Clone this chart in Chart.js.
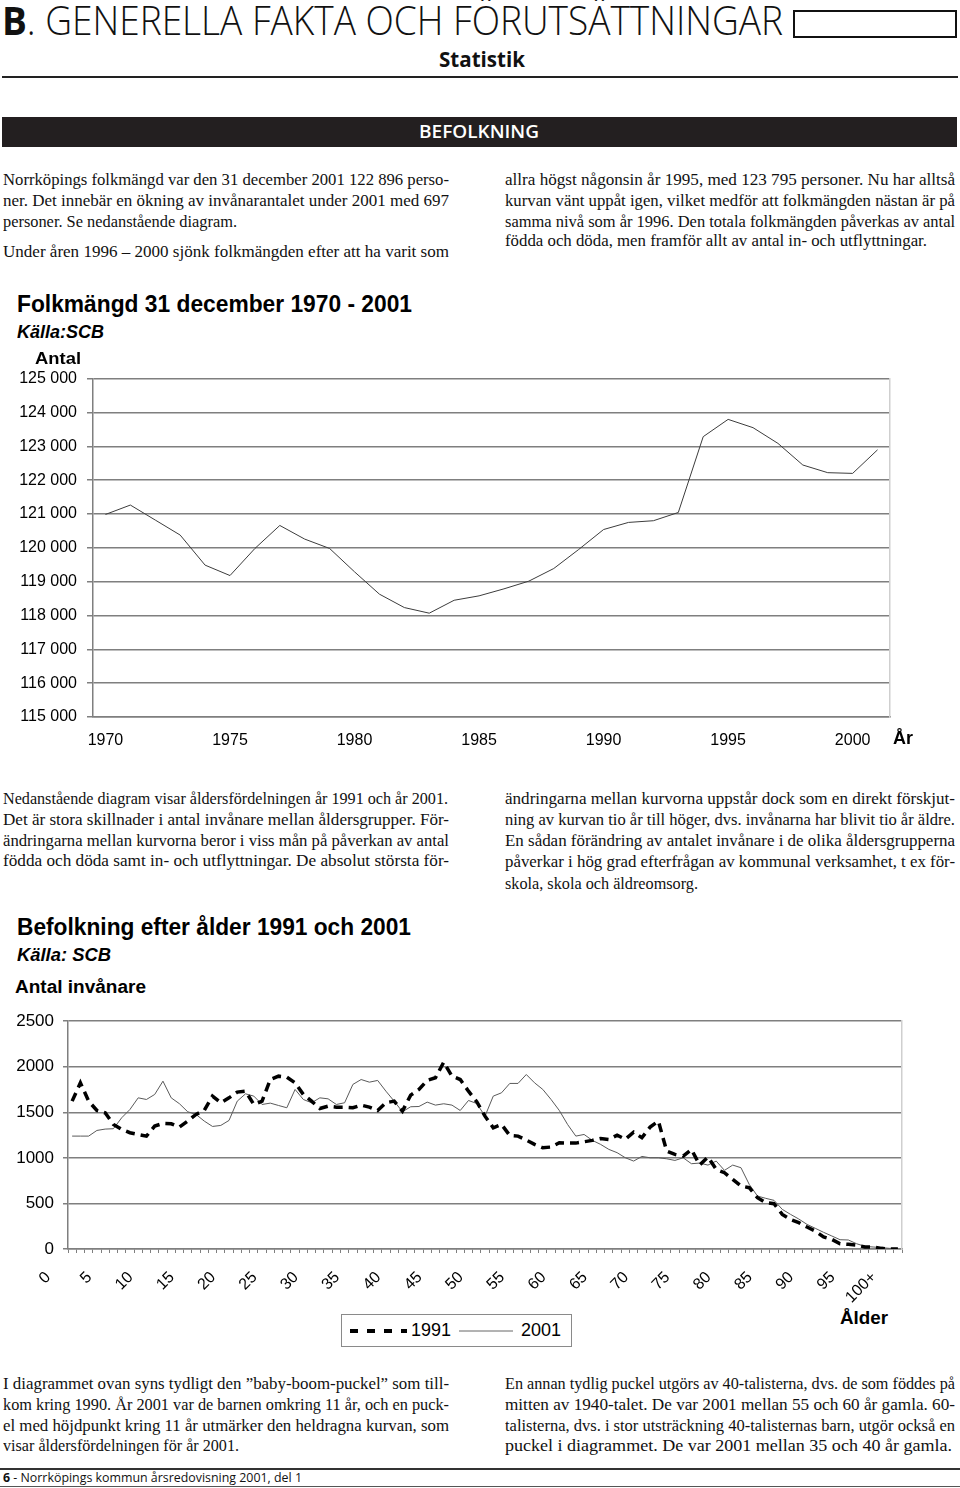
<!DOCTYPE html>
<html lang="sv">
<head>
<meta charset="utf-8">
<title>Befolkning</title>
<script src="https://cdn.jsdelivr.net/npm/chart.js@4.4.0/dist/chart.umd.min.js"></script>
<style>
  html, body { margin: 0; padding: 0; background: #fff; }
  body { position: relative; width: 960px; height: 1488px; overflow: hidden; }
  .t { position: absolute; white-space: nowrap; line-height: 1; transform-origin: 0 50%; color: #111; }
  .serif { font-family: "Liberation Serif", "DejaVu Serif", serif; font-size: 16px; }
  .head { font-family: "Open Sans", "DejaVu Sans", sans-serif; }
  .ar { font-family: "Liberation Sans", Arial, sans-serif; color: #000; }
  canvas { position: absolute; left: 0; }
</style>
</head>
<body>

<div style="position:absolute;left:793px;top:10px;width:160px;height:24px;border:2px solid #111;"></div>
<div style="position:absolute;left:2px;top:76px;width:956px;height:2px;background:#222;"></div>
<div style="position:absolute;left:2px;top:117px;width:955px;height:30px;background:#231f20;"></div>
<div style="position:absolute;left:0;top:1468px;width:960px;height:2px;background:#333;"></div>
<div style="position:absolute;left:0;top:1486px;width:960px;height:1px;background:#555;"></div>

<canvas id="folkChart" width="960" height="401" style="top:359px"></canvas>
<canvas id="alderChart" width="960" height="303" style="top:1002px"></canvas>

<div style="position:absolute;left:341px;top:1314px;width:229px;height:31px;border:1px solid #8a8a8a;">
  <svg width="229" height="31" style="position:absolute;left:0;top:0">
    <line x1="8" y1="16" x2="65" y2="16" stroke="#000" stroke-width="4" stroke-dasharray="8,9"></line>
    <line x1="117" y1="16" x2="171" y2="16" stroke="#666" stroke-width="1"></line>
  </svg>
</div>

<script>
// Folkmängd 31 december 1970 - 2001
const years = ['1970','1971','1972','1973','1974','1975','1976','1977','1978','1979',
               '1980','1981','1982','1983','1984','1985','1986','1987','1988','1989',
               '1990','1991','1992','1993','1994','1995','1996','1997','1998','1999',
               '2000','2001'];
const folkmangd = [120985, 121263, 120820, 120376, 119488, 119180, 119980, 120660, 120257, 119980,
                   119290, 118630, 118234, 118068, 118450, 118580, 118787, 119015, 119388, 119950,
                   120540, 120750, 120800, 121044, 123284, 123795, 123550, 123086, 122446, 122220,
                   122199, 122896];

// Befolkning efter ålder 1991 och 2001
const ages = ['0','1','2','3','4','5','6','7','8','9','10','11','12','13','14','15','16','17','18','19',
              '20','21','22','23','24','25','26','27','28','29','30','31','32','33','34','35','36','37','38','39',
              '40','41','42','43','44','45','46','47','48','49','50','51','52','53','54','55','56','57','58','59',
              '60','61','62','63','64','65','66','67','68','69','70','71','72','73','74','75','76','77','78','79',
              '80','81','82','83','84','85','86','87','88','89','90','91','92','93','94','95','96','97','98','99',
              '100+'];
const ageTickLabels = ['0','5','10','15','20','25','30','35','40','45','50',
                       '55','60','65','70','75','80','85','90','95','100+'];
const befolk1991 = [1623,1824,1623,1520,1495,1367,1312,1276,1257,1239,
                    1349,1378,1374,1338,1404,1477,1520,1678,1605,1659,
                    1722,1732,1586,1623,1860,1897,1886,1824,1696,1623,
                    1542,1568,1557,1557,1550,1579,1557,1520,1605,1623,
                    1513,1689,1751,1850,1879,2050,1897,1860,1732,1616,
                    1458,1330,1367,1246,1239,1195,1148,1111,1119,1166,
                    1162,1162,1177,1192,1213,1202,1250,1205,1283,1221,
                    1338,1404,1075,1038,1020,1093,921,1009,874,837,
                    764,691,673,563,508,497,380,325,289,241,
                    197,132,106,58,51,44,22,22,7,0,0];
const befolk2001 = [1239,1239,1239,1301,1316,1320,1440,1531,1659,1641,
                    1696,1842,1659,1594,1506,1477,1404,1345,1356,1411,
                    1623,1703,1678,1586,1601,1575,1550,1751,1641,1605,
                    1659,1648,1586,1605,1806,1860,1831,1850,1732,1623,
                    1506,1561,1564,1612,1579,1594,1579,1520,1630,1597,
                    1458,1678,1714,1817,1817,1915,1824,1751,1641,1520,
                    1367,1239,1257,1192,1148,1093,1057,1001,965,1016,
                    1001,1001,990,972,1001,936,943,921,965,863,
                    921,892,709,581,556,534,435,380,329,270,
                    227,183,143,102,99,58,29,22,15,7,7];

// text lines: x, center y, width (0 = natural), html, class, font size
const lines = [
  [2, 22, 781, '<b style="font-weight:700">B</b>. GENERELLA FAKTA OCH FÖRUTSÄTTNINGAR', 'head', 40, 300],
  [439, 61, 86, 'Statistik', 'head', 21, 700],
  [419, 132, 120, 'BEFOLKNING', 'head', 18, 600, '#fff'],

  [3, 181, 446, 'Norrköpings folkmängd var den 31 december 2001 122 896 perso-', 'serif', 16],
  [3, 202, 446, 'ner. Det innebär en ökning av invånarantalet under 2001 med 697', 'serif', 16],
  [3, 223, 234, 'personer. Se nedanstående diagram.', 'serif', 16],
  [3, 253, 446, 'Under åren 1996 – 2000 sjönk folkmängden efter att ha varit som', 'serif', 16],
  [505, 181, 450, 'allra högst någonsin år 1995, med 123 795 personer. Nu har alltså', 'serif', 16],
  [505, 202, 450, 'kurvan vänt uppåt igen, vilket medför att folkmängden nästan är på', 'serif', 16],
  [505, 223, 450, 'samma nivå som år 1996. Den totala folkmängden påverkas av antal', 'serif', 16],
  [505, 242, 422, 'födda och döda, men framför allt av antal in- och utflyttningar.', 'serif', 16],

  [3, 800, 445, 'Nedanstående diagram visar åldersfördelningen år 1991 och år 2001.', 'serif', 16],
  [3, 821, 446, 'Det är stora skillnader i antal invånare mellan åldersgrupper. För-', 'serif', 16],
  [3, 842, 446, 'ändringarna mellan kurvorna beror i viss mån på påverkan av antal', 'serif', 16],
  [3, 862, 446, 'födda och döda samt in- och utflyttningar. De absolut största för-', 'serif', 16],
  [505, 800, 450, 'ändringarna mellan kurvorna uppstår dock som en direkt förskjut-', 'serif', 16],
  [505, 821, 450, 'ning av kurvan tio år till höger, dvs. invånarna har blivit tio år äldre.', 'serif', 16],
  [505, 842, 450, 'En sådan förändring av antalet invånare i de olika åldersgrupperna', 'serif', 16],
  [505, 863, 450, 'påverkar i hög grad efterfrågan av kommunal verksamhet, t ex för-', 'serif', 16],
  [505, 885, 193, 'skola, skola och äldreomsorg.', 'serif', 16],

  [3, 1385, 446, 'I diagrammet ovan syns tydligt den ”baby-boom-puckel” som till-', 'serif', 16],
  [3, 1406, 446, 'kom kring 1990. År 2001 var de barnen omkring 11 år, och en puck-', 'serif', 16],
  [3, 1427, 446, 'el med höjdpunkt kring 11 år utmärker den heldragna kurvan, som', 'serif', 16],
  [3, 1447, 236, 'visar åldersfördelningen för år 2001.', 'serif', 16],
  [505, 1385, 450, 'En annan tydlig puckel utgörs av 40-talisterna, dvs. de som föddes på', 'serif', 16],
  [505, 1406, 450, 'mitten av 1940-talet. De var 2001 mellan 55 och 60 år gamla. 60-', 'serif', 16],
  [505, 1427, 450, 'talisterna, dvs. i stor utsträckning 40-talisternas barn, utgör också en', 'serif', 16],
  [505, 1447, 447, 'puckel i diagrammet. De var 2001 mellan 35 och 40 år gamla.', 'serif', 16],

  [3, 1478, 299, '<b style="font-weight:700">6</b> - Norrköpings kommun årsredovisning 2001, del 1', 'head', 13, 400],

  [17, 306, 395, '<b>Folkmängd 31 december 1970 - 2001</b>', 'ar', 23],
  [17, 333, 87, '<b><i>Källa:SCB</i></b>', 'ar', 18],
  [35, 359, 46, '<b>Antal</b>', 'ar', 17],
  [893, 739, 20, '<b>År</b>', 'ar', 18],

  [17, 929, 394, '<b>Befolkning efter ålder 1991 och 2001</b>', 'ar', 23],
  [17, 956, 94, '<b><i>Källa: SCB</i></b>', 'ar', 18],
  [15, 988, 131, '<b>Antal invånare</b>', 'ar', 18],
  [840, 1319, 48, '<b>Ålder</b>', 'ar', 18],
  [411, 1331, 40, '1991', 'ar', 18],
  [521, 1331, 40, '2001', 'ar', 18]
];

for (const [x, yc, w, html, cls, size, weight, color] of lines) {
  const d = document.createElement('div');
  d.className = 't ' + cls;
  d.innerHTML = html;
  d.style.fontSize = size + 'px';
  if (weight) d.style.fontWeight = weight;
  if (color) d.style.color = color;
  d.style.left = x + 'px';
  d.style.top = (yc - size * 0.55) + 'px';
  document.body.appendChild(d);
  if (w) {
    const n = d.getBoundingClientRect().width;
    d.style.transform = 'scaleX(' + (w / n) + ')';
  }
}

const axisFont = { family: 'Liberation Sans', size: 16 };
const spaced = v => String(v).replace(/\B(?=(\d{3})+(?!\d))/g, ' ');

new Chart(document.getElementById('folkChart'), {
  type: 'line',
  data: {
    labels: years,
    datasets: [{ data: folkmangd, borderColor: '#3c3c3c', borderWidth: 1, pointRadius: 0, tension: 0 }]
  },
  options: {
    responsive: false,
    animation: false,
    plugins: { legend: { display: false }, tooltip: { enabled: false } },
    layout: { padding: { top: 6, right: 69, left: 0, bottom: 0 } },
    scales: {
      x: {
        offset: true,
        grid: { display: false },
        border: { color: '#7f7f7f', width: 1.5 },
        ticks: {
          autoSkip: false, maxRotation: 0, color: '#000', font: axisFont, padding: 6,
          callback: (v, i) => (i % 5 === 0 ? years[i] : '')
        },
        afterFit: s => { s.height = 43; }
      },
      y: {
        min: 115000, max: 125000,
        ticks: { stepSize: 1000, color: '#000', font: axisFont, padding: 10, callback: spaced },
        grid: { color: '#7f7f7f', lineWidth: 1.5, tickLength: 6 },
        border: { color: '#7f7f7f', width: 1.5 },
        afterFit: s => { s.width = 93; }
      },
      y2: {
        position: 'right',
        grid: { display: false },
        ticks: { display: false },
        border: { color: '#cfcfcf', width: 1.5 },
        afterFit: s => { s.width = 1; }
      }
    }
  }
});

new Chart(document.getElementById('alderChart'), {
  type: 'line',
  data: {
    labels: ages,
    datasets: [
      { label: '1991', data: befolk1991, borderColor: '#000', borderWidth: 3.5, borderDash: [9, 6],
        pointRadius: 0, tension: 0 },
      { label: '2001', data: befolk2001, borderColor: '#5a5a5a', borderWidth: 1, pointRadius: 0, tension: 0 }
    ]
  },
  options: {
    responsive: false,
    animation: false,
    plugins: { legend: { display: false }, tooltip: { enabled: false } },
    layout: { padding: { top: 12, right: 57, left: 0, bottom: 0 } },
    scales: {
      x: {
        offset: true,
        grid: { offset: true, drawOnChartArea: false, color: '#7f7f7f', tickLength: 4 },
        border: { color: '#7f7f7f', width: 1.5 },
        ticks: {
          autoSkip: false, minRotation: 45, maxRotation: 45, color: '#000', font: axisFont,
          padding: 15, labelOffset: -24,
          callback: (v, i) => (ageTickLabels.includes(ages[i]) ? ages[i] : '')
        },
        afterFit: s => { s.height = 56; }
      },
      y: {
        min: 0, max: 2500,
        ticks: { stepSize: 500, color: '#000', font: { family: 'Liberation Sans', size: 17 }, padding: 9,
                 callback: v => String(v) },
        grid: { color: '#7f7f7f', lineWidth: 1.5, tickLength: 5 },
        border: { color: '#7f7f7f', width: 1.5 },
        afterFit: s => { s.width = 68; }
      },
      y2: {
        position: 'right',
        grid: { display: false },
        ticks: { display: false },
        border: { color: '#cfcfcf', width: 1.5 },
        afterFit: s => { s.width = 1; }
      }
    }
  }
});
</script>
</body>
</html>
